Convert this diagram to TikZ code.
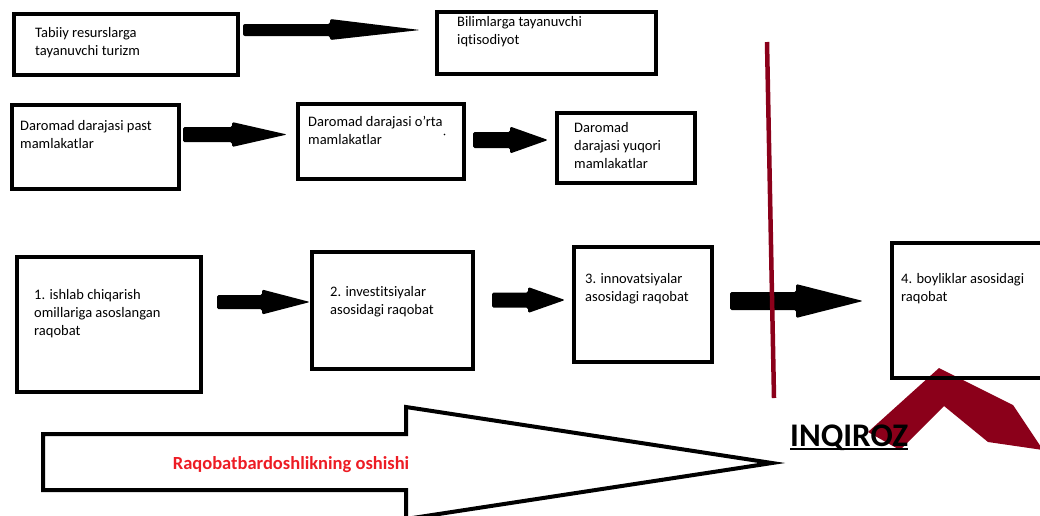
\documentclass[tikz,border=0pt]{standalone}
\usepackage{fontspec}
\setmainfont{Carlito}[Ligatures=NoCommon]
\definecolor{crisis}{RGB}{139,0,26}
\definecolor{growth}{RGB}{237,28,36}
% fat block arrow: start x, tip x, axis y, shaft half-height, head base x, head half-height
\newcommand\fatarrow[6]{%
  \fill[black, rounded corners=1.5pt] (#1,#3-#4) -- (#5,#3-#4) -- (#5,#3-#6) -- (#2,#3)
    -- (#5,#3+#6) -- (#5,#3+#4) -- (#1,#3+#4) -- cycle;}
\begin{document}
\begin{tikzpicture}[x=1pt,y=-1pt,
  box/.style={draw=black, line width=3.5pt, anchor=north west, inner sep=0pt},
  % text placed by the baseline of its last line
  boxtext/.style={anchor=base west, align=left, inner sep=0pt,
    font=\fontsize{14.5}{18}\selectfont},
]
\useasboundingbox (0,0) rectangle (1040,515);

% first row: economy types
\node[box, minimum width=224, minimum height=61] (tur) at (12,12) {};
\node[boxtext] (turT) at (35,55) {Tabiiy resurslarga\\tayanuvchi turizm};
\node[box, minimum width=219, minimum height=62] (bil) at (435,10) {};
\node[boxtext] (bilT) at (457,44) {Bilimlarga tayanuvchi\\iqtisodiyot};
\fill[black, rounded corners=2pt] (243,24) -- (330,24) -- (330,19) -- (420,30)
  -- (330,40) -- (330,36) -- (243,36) -- cycle;

% second row: income levels
\node[box, minimum width=167, minimum height=84] (past) at (10,103) {};
\node[boxtext] (pastT) at (20,148) {Daromad darajasi past\\mamlakatlar};
\node[box, minimum width=166, minimum height=75] (orta) at (296,102) {};
\node[boxtext] (ortaT) at (308,144) {Daromad darajasi o'rta\\mamlakatlar};
\fill[black] (444.5,134.5) circle (0.9);
\node[box, minimum width=138, minimum height=70] (yuq) at (555,111) {};
\node[boxtext] (yuqT) at (574,168) {Daromad\\darajasi yuqori\\mamlakatlar};
\fatarrow{183}{287}{134.5}{7.5}{232}{12.5}
\fatarrow{473}{548}{140}{8}{510}{13.5}

% third row: stages of competition
\node[box, minimum width=184, minimum height=135] (r1) at (15,255) {};
\node[boxtext] (r1T) at (34,335) {1. ishlab chiqarish\\omillariga asoslangan\\raqobat};
\node[box, minimum width=161, minimum height=117] (r2) at (310,250) {};
\node[boxtext] (r2T) at (330,314) {2. investitsiyalar\\asosidagi raqobat};
\node[box, minimum width=138, minimum height=115] (r3) at (572,245) {};
\node[boxtext] (r3T) at (585,301) {3. innovatsiyalar\\asosidagi raqobat};
\fatarrow{217}{310}{302}{7}{262}{12.5}
\fatarrow{492}{565}{300}{7.5}{528}{13}
\fatarrow{730}{863}{301}{9}{796}{17}

% crisis chevron behind the last stage
\fill[crisis] (939,368) -- (1013,405) -- (1043,450) -- (988,442) -- (944,406)
  -- (900,450) -- (868,432) -- cycle;
\node[box, minimum width=170, minimum height=135] (r4) at (890,241) {};
\node[boxtext] (r4T) at (901,301) {4. boyliklar asosidagi\\raqobat};

% crisis boundary
\draw[crisis, line width=4.5pt] (767,42) coordinate (lineTop) -- (774,398) coordinate (lineBot);

% growth of competitiveness
\draw[black, line width=4pt, line join=miter] (43,434) -- (406,434) -- (406,407)
  -- (772,463) -- (406,519) -- (406,490) -- (43,490) -- cycle;
\node[anchor=center, inner sep=0pt, text=growth,
  font=\bfseries\fontsize{18.5}{21}\selectfont] (grow) at (291,465) {Raqobatbardoshlikning oshishi};

% crisis label
\node[anchor=base west, inner sep=0pt, font=\bfseries\fontsize{33}{38}\selectfont] (inq) at (790,446) {INQIROZ};
\draw[line width=2.5pt] ([yshift=-3pt]inq.base west) -- ([yshift=-3pt]inq.base east);
\end{tikzpicture}
\end{document}
